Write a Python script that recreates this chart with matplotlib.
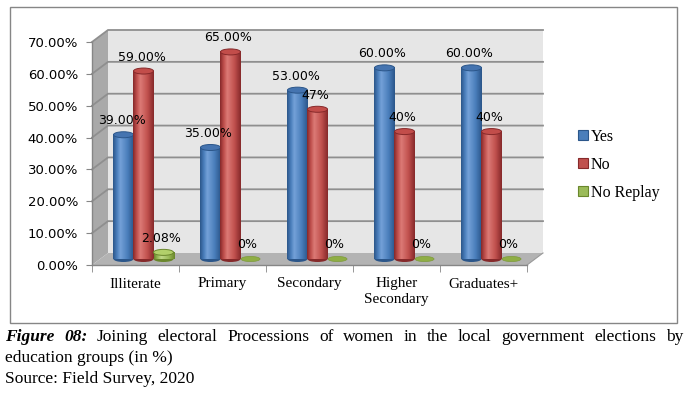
import numpy as np
import matplotlib
matplotlib.use("Agg")
import matplotlib.pyplot as plt
from matplotlib.patches import Polygon, Ellipse, Rectangle, Patch
from matplotlib.colors import LinearSegmentedColormap

# ---- data ----
categories = ["Illiterate", "Primary", "Secondary", "Higher\nSecondary", "Graduates+"]
series_names = ["Yes", "No", "No Replay"]
yes = [39.00, 35.00, 53.00, 60.00, 60.00]
no = [59.00, 65.00, 47.00, 40.00, 40.00]
no_replay = [2.08, 0.0, 0.0, 0.0, 0.0]
yes_labels = ["39.00%", "35.00%", "53.00%", "60.00%", "60.00%"]
no_labels = ["59.00%", "65.00%", "47%", "40%", "40%"]
no_replay_labels = ["2.08%", "0%", "0%", "0%", "0%"]
yticks = [0, 10, 20, 30, 40, 50, 60, 70]
ytick_labels = ["0.00%", "10.00%", "20.00%", "30.00%", "40.00%", "50.00%", "60.00%", "70.00%"]

# colours: (dark edge, base, highlight, top cap)
PAL = {
    "Yes": ("#2b568a", "#4a7ebb", "#74a1d8", "#4574b0"),
    "No": ("#86292a", "#c0504d", "#dc7a76", "#c24d4a"),
    "No Replay": ("#6a872c", "#9bbb59", "#c0d888", "#b2d06a"),
}
SERIF = "Liberation Serif"

W, H = 691, 394
fig = plt.figure(figsize=(W / 100, H / 100), dpi=100)

# chart frame
fig.patches.append(Rectangle((10 / W, 1 - 323 / H), 667 / W, 316 / H, transform=fig.transFigure,
                             fill=False, edgecolor="#868686", linewidth=1.0))

# front plane of the 3D box
ax_l, ax_r, ax_t, ax_b = 92, 527, 42, 265
ax = fig.add_axes([ax_l / W, 1 - ax_b / H, (ax_r - ax_l) / W, (ax_b - ax_t) / H])
ax.patch.set_visible(False)
n = len(categories)
ax.set_xlim(-0.5, n - 0.5)
ax.set_ylim(0, 70)

px_x = (ax_r - ax_l) / n          # pixels per category
px_y = (ax_b - ax_t) / 70.0       # pixels per percent
DX = 16 / px_x                    # depth offset
DY = 12 / px_y

x0, x1 = -0.5, n - 0.5
# back wall
ax.add_patch(Polygon([(x0 + DX, DY), (x1 + DX, DY), (x1 + DX, 70 + DY), (x0 + DX, 70 + DY)],
                     closed=True, facecolor="#e6e6e6", edgecolor="none", zorder=0, clip_on=False))
# side wall
ax.add_patch(Polygon([(x0, 0), (x0 + DX, DY), (x0 + DX, 70 + DY), (x0, 70)],
                     closed=True, facecolor="#a9a9a9", edgecolor="none", zorder=0.5, clip_on=False))
# floor
ax.add_patch(Polygon([(x0, 0), (x1, 0), (x1 + DX, DY), (x0 + DX, DY)],
                     closed=True, facecolor="#b3b3b3", edgecolor="none", zorder=0.5, clip_on=False))
ax.plot([x1, x1 + DX], [0, DY], color="#9a9a9a", lw=0.8, zorder=0.6, clip_on=False)

# gridlines on side + back wall
for v in yticks[1:]:
    ax.plot([x0, x0 + DX, x1 + DX], [v, v + DY, v + DY], color="#8f8f8f", lw=1.3,
            zorder=1, clip_on=False, solid_joinstyle="miter")

# cylinders
w = 0.23
eh = 6 / px_y
offsets = [-w, 0.0, w]
grad_x = np.linspace(0, 1, 64)
for j, (name, vals) in enumerate(zip(series_names, [yes, no, no_replay])):
    dark, base, light, top = PAL[name]
    cmap = LinearSegmentedColormap.from_list(name, [(0, dark), (0.18, base), (0.35, light),
                                                     (0.7, base), (1, dark)])
    img = cmap(grad_x)[None, :, :]
    for i, v in enumerate(vals):
        xc = i + offsets[j] + DX / 2
        yb = DY / 2
        yt = v + DY / 2
        z = 3 + j * 0.1
        if v <= 0:
            ax.add_patch(Ellipse((xc, yb), w * 0.95, eh * 0.85, facecolor="#8fae45",
                                 edgecolor="#7d9a3a", lw=0.5, zorder=z, clip_on=False))
            continue
        ax.add_patch(Ellipse((xc, yb), w, eh, facecolor=dark, edgecolor="none", zorder=z, clip_on=False))
        ax.imshow(img, extent=(xc - w / 2, xc + w / 2, yb, yt), aspect="auto",
                  interpolation="bilinear", zorder=z + 0.01, clip_on=False)
        ax.add_patch(Ellipse((xc, yt), w, eh, facecolor=top, edgecolor=dark, lw=0.7,
                             zorder=z + 0.02, clip_on=False))

# data labels
for j, (vals, labs) in enumerate(zip([yes, no, no_replay], [yes_labels, no_labels, no_replay_labels])):
    for i, (v, lab) in enumerate(zip(vals, labs)):
        xc = i + offsets[j] + DX / 2
        dxp = -3 if v <= 0 else -2
        ax.annotate(lab, (xc, v + DY / 2), xytext=(dxp, 14), textcoords="offset pixels",
                    ha="center", va="center", fontsize=9, color="black", zorder=10,
                    annotation_clip=False)

ax.set_xlim(-0.5, n - 0.5)
ax.set_ylim(0, 70)

# axes / ticks
for s in ["top", "right"]:
    ax.spines[s].set_visible(False)
for s in ["left", "bottom"]:
    ax.spines[s].set_color("#868686")
    ax.spines[s].set_linewidth(1.0)
    ax.spines[s].set_zorder(2)
ax.set_yticks(yticks)
ax.set_yticklabels(ytick_labels, fontsize=9.5)
ax.tick_params(axis="y", length=4, color="#868686", pad=6)
ax.set_xticks(range(n))
ax.set_xticklabels(categories, fontsize=11, family=SERIF, linespacing=1.2)
ax.set_xticks(np.arange(-0.5, n, 1.0), minor=True)
ax.tick_params(axis="x", which="major", length=0, pad=9)
ax.tick_params(axis="x", which="minor", length=5, color="#868686")

# legend
handles = [Patch(facecolor=PAL[s][1], edgecolor=PAL[s][0], linewidth=0.8) for s in series_names]
fig.legend(handles, series_names, loc="center left", bbox_to_anchor=(578 / W, 1 - 165 / H),
           frameon=False, prop={"family": SERIF, "size": 11.5}, handlelength=0.6, handleheight=0.6,
           labelspacing=0.75, handletextpad=0.2, borderaxespad=0, borderpad=0)

# caption (first line justified)
r = fig.canvas.get_renderer()
cap_size = 12.5
left_px, right_px = 5, 683
base1, base2, base3 = 341, 362, 383
lead = [fig.text(0, 1 - base1 / H, wd, family=SERIF, size=cap_size, weight="bold",
                 style="italic", va="baseline") for wd in ["Figure", "08:"]]
words = ["Joining", "electoral", "Processions", "of", "women", "in", "the", "local",
         "government", "elections", "by"]
texts = lead + [fig.text(0, 1 - base1 / H, wd, family=SERIF, size=cap_size, va="baseline")
                for wd in words]
widths = [t.get_window_extent(renderer=r).width for t in texts]
gap = (right_px - left_px - sum(widths)) / (len(texts) - 1)
x = left_px
for t, wd in zip(texts, widths):
    t.set_x(x / W)
    x += wd + gap
fig.text(left_px / W, 1 - base2 / H, "education groups (in %)", family=SERIF, size=cap_size, va="baseline")
fig.text(left_px / W, 1 - base3 / H, "Source: Field Survey, 2020", family=SERIF, size=cap_size, va="baseline")

fig.savefig("out.png", dpi=100)
plt.close(fig)
